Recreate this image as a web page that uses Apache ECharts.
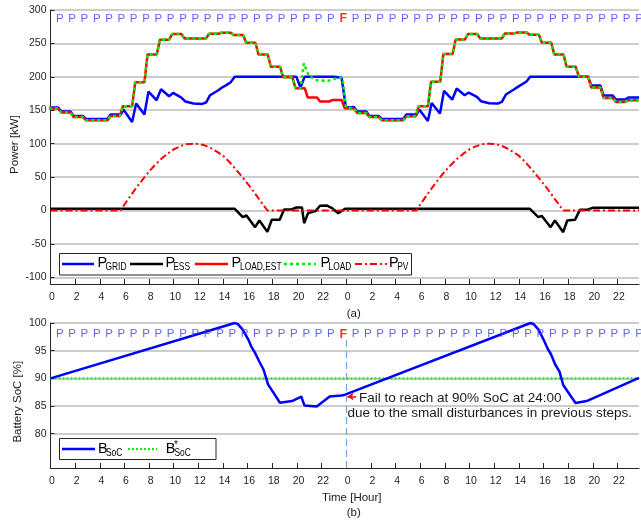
<!DOCTYPE html>
<html>
<head>
<meta charset="utf-8">
<script src="https://cdn.jsdelivr.net/npm/echarts@6/dist/echarts.min.js"></script>
<style>
html,body{margin:0;padding:0;background:#fff;}
#chart{width:641px;height:521px;}
</style>
</head>
<body>
<div id="chart"></div>
<script>
// ---- data ----
const hourTicks = [0,2,4,6,8,10,12,14,16,18,20,22,24,26,28,30,32,34,36,38,40,42,44,46];
const hourTickLabels = ['0','2','4','6','8','10','12','14','16','18','20','22','0','2','4','6','8','10','12','14','16','18','20','22'];
const powerTicks = [-100,-50,0,50,100,150,200,250,300];
const socTicks = [80,85,90,95,100];

// end of each control step and its status (P = feasible, F = failed)
const stepHours = [0.75,1.75,2.75,3.75,4.75,5.75,6.75,7.75,8.75,9.75,10.75,11.75,12.75,13.75,14.75,15.75,16.75,17.75,18.75,19.75,20.75,21.75,22.75,23.75,
  24.75,25.75,26.75,27.75,28.75,29.75,30.75,31.75,32.75,33.75,34.75,35.75,36.75,37.75,38.75,39.75,40.75,41.75,42.75,43.75,44.75,45.75,46.75,47.75];
const stepStatus = 'PPPPPPPPPPPPPPPPPPPPPPPFPPPPPPPPPPPPPPPPPPPPPPPP'.split('');

// hourly load estimate [kW]
const loadEstHourly = [152.5,146.5,140,135,135,141.5,156,192,233.5,255.5,264,257.5,257.5,264.5,266,262.5,251,233.5,215,199.5,183,169,163,165.5,
  153,146,140,135,135,141,156,192.5,234,256,264,257.5,257.5,265,266.5,263,251,233.5,215,200,184,168.5,162.5,165];
// measured load where it departs from the estimate [hour, kW]
const loadDisturbance = [[20.3,183],[20.55,220],[20.95,202],[21.5,195],[22.5,194],[23.0,196.5],[23.35,199],[23.7,198],[23.97,154]];

const gridPower = [
  [0,154],[0.625,154],[0.875,148],[1.625,148],[1.875,141.5],[2.625,141.5],[2.875,137],[4.625,137],[4.875,143.5],[5.7,143.5],[5.92,151],
  [6.62,132.5],[6.95,160],[7.62,143.5],[7.95,178],[8.6,165],[8.97,181.5],[9.62,171],[9.95,176],[10.62,169],[10.95,163],[11.6,160],
  [12.3,159.5],[12.62,161.5],[12.95,172.5],[13.62,180],[13.92,184],[14.3,188],[14.62,192],[14.95,200],[19.95,200],[20.28,184],[20.62,200],
  [23.0,200],[23.62,198.5],[23.97,154],
  [24.625,155],[24.875,148],[25.625,148],[25.875,141.5],[26.625,141.5],[26.875,137],[28.625,137],[28.875,143.5],[29.7,143.5],[29.92,151],
  [30.62,134],[30.93,161],[31.6,145],[31.93,179],[32.6,166],[32.96,182.5],[33.6,172.5],[33.93,176.5],[34.6,170],[34.93,163.5],[35.6,160.5],
  [36.3,160],[36.62,162.5],[36.95,173.5],[37.6,181],[37.92,185],[38.62,193],[38.92,200],[43.62,200],[43.88,187],[44.62,187],[44.88,172],
  [45.62,172],[45.88,166],[46.62,166],[46.88,169],[47.75,169]
];

const essPower = [
  [0,2.5],[14.95,2.5],[15.6,-10],[15.9,-7.5],[16.6,-25],[16.95,-15],[17.6,-32],[17.95,-14],[18.6,-14],[18.95,1.5],[19.6,2],[19.95,4.5],
  [20.4,4.5],[20.58,-19],[20.9,-4],[21.5,-1],[21.87,7],[22.4,7.5],[22.8,4],[23.35,-4],[23.9,2.5],
  [38.9,2.5],[39.58,-10],[39.85,-8],[40.58,-25],[40.93,-15],[41.6,-32.5],[41.93,-15],[42.55,-14],[42.96,1],[43.6,1.5],[44.0,4],[47.75,4]
];

const pvPower = [
  [0,0],[5.7,0],[6,9],[6.5,22],[7,35],[7.5,47],[8,58.5],[8.5,68.5],[9,77.5],[9.5,85],[10,91.5],[10.5,96],[11,99],[11.6,100],[12,99.5],
  [12.5,97.5],[13,93.5],[13.5,88],[14,82],[14.5,73],[15,62.5],[15.5,51.5],[16,40],[16.5,28],[17,15],[17.6,0],
  [29.7,0],[30,9],[30.5,22],[31,35],[31.5,47],[32,58.5],[32.5,68.5],[33,77.5],[33.5,85],[34,91.5],[34.5,96],[35,99],[35.6,100],[36,99.5],
  [36.5,97.5],[37,93.5],[37.5,88],[38,82],[38.5,73],[39,62.5],[39.5,51.5],[40,40],[40.5,28],[41,15],[41.6,0],[47.75,0]
];

const socTrace = [
  [0,90],[14.95,100],[15.2,99.8],[15.6,98.8],[16.05,97],[16.3,95.7],[16.6,94.6],[16.95,93],[17.3,91.5],[17.65,88.9],[18.62,85.6],
  [19.6,85.9],[20.35,86.7],[20.6,85.1],[21.6,84.9],[22.65,86.7],[23.6,86.9],[23.9,87.05],
  [38.95,100],[39.2,99.8],[39.6,98.8],[40.05,96.8],[40.35,95.3],[40.6,94.4],[40.95,92.5],[41.3,91.2],[41.6,88.8],[42.6,85.55],[43.5,85.9],[47.75,90.1]
];
const socTarget = 90;
const lastHour = 47.75;

// ---- helpers ----
const FONT = '"Liberation Sans", Arial, Helvetica, sans-serif';
const BLUE = '#0000ff', RED = '#ff0000', GREEN = '#00ee00', BLACK = '#000000';
const AXIS = '#262626', GRIDLINE = '#bdbdbd';

// hourly levels held over each control window, ramping at the window boundary
function stairs(values) {
  const pts = [];
  values.forEach((v, i) => {
    pts.push([i - 0.125, v]);
    pts.push([i === values.length - 1 ? lastHour : i + 0.625, v]);
  });
  return pts;
}
const loadEst = stairs(loadEstHourly);
const dStart = loadDisturbance[0][0], dEnd = loadDisturbance[loadDisturbance.length - 1][0];
const loadActual = loadEst.filter(p => p[0] < dStart || p[0] > dEnd)
  .concat(loadDisturbance).sort((a, b) => a[0] - b[0]);

function xAxisFor(gridIndex) {
  return {
    type: 'value', gridIndex, min: 0, max: lastHour,
    axisLine: { show: true, onZero: false, lineStyle: { color: AXIS, width: 1 } },
    axisTick: { show: true, inside: true, length: 5, customValues: hourTicks, lineStyle: { color: AXIS } },
    axisLabel: { customValues: hourTicks, formatter: v => hourTickLabels[hourTicks.indexOf(v)] || '',
      color: AXIS, fontSize: 10.5, fontFamily: FONT, margin: 8, padding: [0, 0, 0, 3] },
    splitLine: { show: false }
  };
}
function yAxisFor(gridIndex, min, max, ticks) {
  return {
    type: 'value', gridIndex, min, max,
    axisLine: { show: true, onZero: false, lineStyle: { color: AXIS, width: 1 } },
    axisTick: { show: true, inside: true, length: 4, customValues: ticks, lineStyle: { color: AXIS } },
    axisLabel: { customValues: ticks, color: AXIS, fontSize: 10.5, fontFamily: FONT, margin: 4 },
    splitLine: { show: true, lineStyle: { color: GRIDLINE, width: 1.6 } }
  };
}
function statusRow(xAxisIndex, yAxisIndex, yLevel) {
  return {
    type: 'scatter', xAxisIndex, yAxisIndex, symbolSize: 0, z: 6, silent: true,
    data: stepHours.map((h, i) => ({
      value: [h, yLevel],
      label: stepStatus[i] === 'F'
        ? { color: RED, fontWeight: 'bold', fontSize: 12.5 }
        : { color: '#3a3aff', fontSize: 11.5 }
    })),
    label: { show: true, position: 'inside', fontFamily: FONT, formatter: p => stepStatus[p.dataIndex] }
  };
}
function lineSeries(name, data, color, width, type, x, y, z) {
  return {
    name, type: 'line', xAxisIndex: x, yAxisIndex: y, data, symbol: 'none', z,
    lineStyle: { color, width, type, cap: 'butt' }, itemStyle: { color }
  };
}

// ---- legend / annotation graphics ----
const DOT = [3, 3], DASHDOT = [7, 3, 2, 3];
function legendGroup(box, lineY, mainY, subY, items) {
  const els = [{ type: 'rect', shape: box, style: { fill: '#fff', stroke: AXIS, lineWidth: 1 }, z: 10 }];
  items.forEach(it => {
    els.push({ type: 'line', shape: { x1: it.x1, y1: lineY, x2: it.x2, y2: lineY },
      style: { stroke: it.color, lineWidth: it.w, lineDash: it.dash || null }, z: 11 });
    els.push({ type: 'text', x: it.mx, y: mainY, z: 11,
      style: { text: it.main, font: '14.5px ' + FONT, fill: BLACK, align: 'left', verticalAlign: 'middle' } });
    els.push({ type: 'text', x: it.sx, y: subY, scaleX: 0.8, z: 11,
      style: { text: it.sub, font: '10.5px ' + FONT, fill: BLACK, align: 'left', verticalAlign: 'middle' } });
    if (it.sup) {
      els.push({ type: 'text', x: it.supx, y: it.supy, z: 11,
        style: { text: it.sup, font: '10px ' + FONT, fill: BLACK, align: 'left', verticalAlign: 'middle' } });
    }
  });
  return els;
}
const topLegend = legendGroup({ x: 59.5, y: 253.5, width: 352, height: 21.5 }, 264, 262.5, 267, [
  { x1: 62, x2: 94, color: BLUE, w: 2.5, main: 'P', mx: 97.6, sub: 'GRID', sx: 105.5 },
  { x1: 130, x2: 163, color: BLACK, w: 2.5, main: 'P', mx: 165.6, sub: 'ESS', sx: 173.2 },
  { x1: 195, x2: 228, color: RED, w: 2.5, main: 'P', mx: 231.6, sub: 'LOAD,EST', sx: 240 },
  { x1: 284, x2: 316, color: GREEN, w: 2.5, dash: DOT, main: 'P', mx: 320.6, sub: 'LOAD', sx: 328.5 },
  { x1: 355, x2: 387, color: RED, w: 2, dash: DASHDOT, main: 'P', mx: 389, sub: 'PV', sx: 397.2 }
]);
const bottomLegend = legendGroup({ x: 59.5, y: 438.5, width: 156.5, height: 21 }, 449, 449.2, 453.5, [
  { x1: 62, x2: 95, color: BLUE, w: 2.5, main: 'B', mx: 98, sub: 'SoC', sx: 106 },
  { x1: 128, x2: 157, color: GREEN, w: 2, dash: [2, 2], main: 'B', mx: 165.7, sub: 'SoC', sx: 174.5,
    sup: '*', supx: 174, supy: 445 }
]);

function label(text, x, y, opts) {
  return Object.assign({ type: 'text', x, y, z: 12,
    style: { text, font: (opts && opts.size || 11.5) + 'px ' + FONT, fill: '#1a1a1a',
      align: (opts && opts.align) || 'center', verticalAlign: 'middle' } },
    opts && opts.rotation ? { rotation: opts.rotation } : {});
}

const chart = echarts.init(document.getElementById('chart'), null, { renderer: 'canvas' });
chart.setOption({
  animation: false,
  backgroundColor: '#fff',
  grid: [
    { left: 50.5, top: 10, width: 588.5, height: 274 },
    { left: 50.5, top: 323, width: 588.5, height: 145 }
  ],
  xAxis: [xAxisFor(0), xAxisFor(1)],
  yAxis: [yAxisFor(0, -110, 300, powerTicks), yAxisFor(1, 73.8, 100, socTicks)],
  series: [
    lineSeries('P_GRID', gridPower, BLUE, 2.5, 'solid', 0, 0, 2),
    lineSeries('P_ESS', essPower, BLACK, 2.5, 'solid', 0, 0, 2),
    lineSeries('P_LOAD,EST', loadEst, RED, 2.5, 'solid', 0, 0, 3),
    lineSeries('P_LOAD', loadActual, GREEN, 2.5, DOT, 0, 0, 4),
    lineSeries('P_PV', pvPower, RED, 2, DASHDOT, 0, 0, 5),
    statusRow(0, 0, 286.5),
    Object.assign(lineSeries('B*_SoC', [[0, socTarget], [lastHour, socTarget]], GREEN, 2, [2, 2], 1, 1, 3), {
      markLine: {
        silent: true, symbol: 'none', label: { show: false },
        data: [[
          { coord: [24, 73.8], lineStyle: { color: '#6fa6dc', width: 1.2, type: [7, 4] } },
          { coord: [24, 97.6] }
        ]]
      }
    }),
    Object.assign(lineSeries('B_SoC', socTrace, BLUE, 2.5, 'solid', 1, 1, 4), {
      markLine: {
        silent: true, label: { show: false }, symbolSize: 6,
        data: [[
          { coord: [24.8, 86.7], symbol: 'none', lineStyle: { color: RED, width: 1.5, type: 'solid' } },
          { coord: [24.1, 86.7], symbol: 'arrow' }
        ]]
      }
    }),
    statusRow(1, 1, 98.0)
  ],
  graphic: [].concat(topLegend, bottomLegend, [
    label('Power [kW]', 15, 144.5, { rotation: Math.PI / 2 }),
    label('Battery SoC [%]', 18, 401.7, { rotation: Math.PI / 2 }),
    label('Time [Hour]', 351.7, 497.8),
    label('(a)', 353.7, 313.8),
    label('(b)', 353.7, 512.5),
    label('Fail to reach at 90% SoC at 24:00', 359, 398, { align: 'left', size: 13.5 }),
    label('due to the small disturbances in previous steps.', 347.5, 413, { align: 'left', size: 13.5 })
  ])
});
</script>
</body>
</html>
